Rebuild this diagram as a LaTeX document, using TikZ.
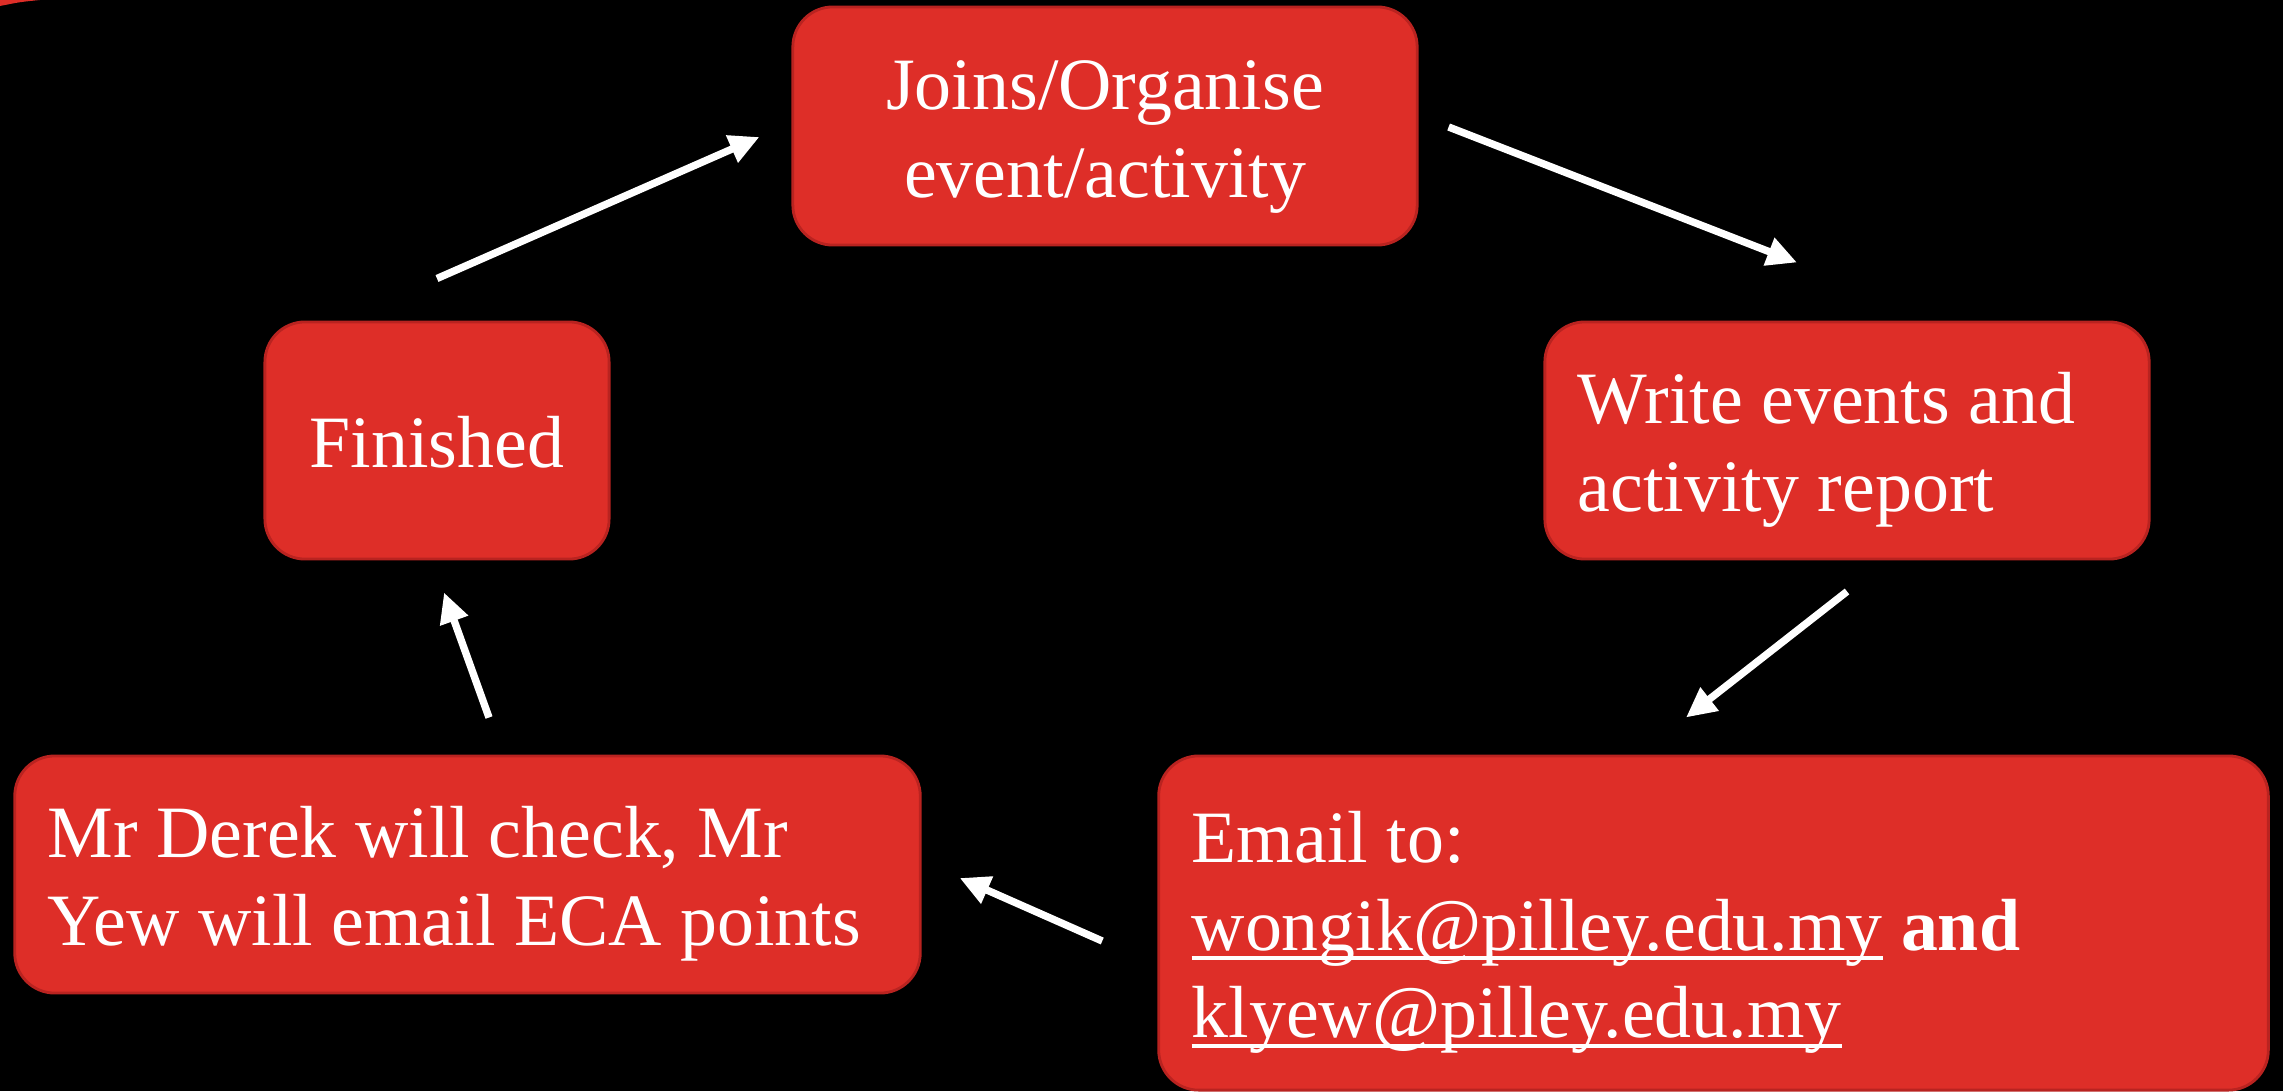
\documentclass[tikz,border=0pt]{standalone}
\usepackage{fontspec}
\setmainfont{Liberation Serif}
\usepackage{tikz}
\usetikzlibrary{arrows.meta,positioning}

\definecolor{boxred}{RGB}{222,46,40}
\definecolor{edgered}{RGB}{185,35,32}

% underlined mail address
\newcommand{\ulmail}[1]{\mbox{\setbox0\hbox{#1}\rlap{\rule[-0.13em]{\wd0}{0.055em}}\box0}}

\tikzset{
  stage/.style={draw=edgered,line width=0.8pt,fill=boxred,text=white,
    rounded corners=0.4cm,inner xsep=0.33cm,inner ysep=0pt,text height=0.7cm,
    font=\fontsize{21}{25}\selectfont},
  flow/.style={draw=white,line width=2.1pt,-{Triangle[length=0.3cm,width=0.28cm]}},
}

\begin{document}
\begin{tikzpicture}[x=0.01cm,y=-0.01cm]
\useasboundingbox[fill=black] (0,0) rectangle (2283,1091);
\fill[boxred] (0,0) -- (40,0) .. controls (20,2) .. (0,6) -- cycle;

\node (join)[stage,align=flush center,text width=5.58cm,minimum height=2.38cm] at (1105,126)
  {Joins/Organise\\event/activity};
\node (finished)[stage,align=flush center,text width=2.78cm,text depth=0.16cm,minimum height=2.37cm] at (437,440.5)
  {Finished};
\node (report)[stage,align=flush left,text width=5.38cm,minimum height=2.37cm] at (1847,440.5)
  {Write events and\\activity report};
\node (check)[stage,align=flush left,text width=8.39cm,minimum height=2.37cm] at (467.5,874.5)
  {Mr Derek will check, Mr\\Yew will email ECA points};
\node (email)[stage,align=flush left,text width=10.43cm,minimum height=3.34cm] at (1713.5,923)
  {Email to:\\\ulmail{wongik@pilley.edu.my} \textbf{and}\\\ulmail{klyew@pilley.edu.my}};

% draw the connections
\draw[flow] ([yshift=0.42cm]finished.north)--([xshift=-0.32cm,yshift=-0.11cm]join.west);
\draw[flow] ([xshift=0.30cm,yshift=-0.01cm]join.east)--([xshift=-0.5cm,yshift=0.58cm]report.north);
\draw[flow] ([yshift=-0.31cm]report.south)--([xshift=-0.275cm,yshift=0.37cm]email.north);
\draw[flow] ([xshift=-0.55cm,yshift=-0.18cm]email.west)--([xshift=0.38cm,yshift=-0.035cm]check.east);
\draw[flow] ([xshift=0.215cm,yshift=0.37cm]check.north)--([xshift=0.07cm,yshift=-0.32cm]finished.south);
\end{tikzpicture}
\end{document}
